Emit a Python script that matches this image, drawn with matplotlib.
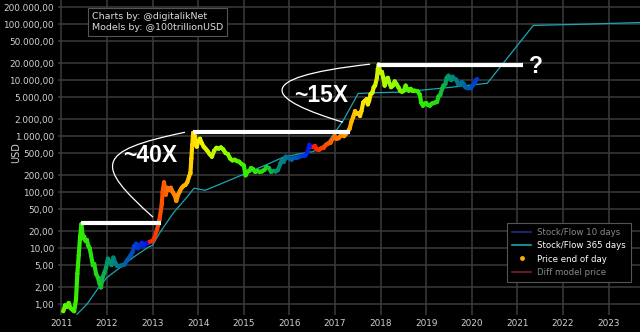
import numpy as np
import matplotlib
matplotlib.use("Agg")
import matplotlib.pyplot as plt
from matplotlib.collections import LineCollection
from matplotlib.colors import LinearSegmentedColormap
from matplotlib.lines import Line2D
from matplotlib.path import Path
from matplotlib.patches import PathPatch
from matplotlib.ticker import FuncFormatter, FixedLocator

# --- data --------------------------------------------------------
price_t = [2011.04, 2011.08, 2011.12, 2011.16, 2011.20, 2011.24, 2011.28, 2011.32, 2011.35, 2011.38,
           2011.41, 2011.44, 2011.46, 2011.48, 2011.50, 2011.53, 2011.56, 2011.59, 2011.62, 2011.65,
           2011.69, 2011.72, 2011.76, 2011.80, 2011.84, 2011.87, 2011.90, 2011.94, 2011.98, 2012.02,
           2012.06, 2012.10, 2012.14, 2012.18, 2012.22, 2012.30, 2012.38, 2012.45, 2012.52, 2012.56,
           2012.60, 2012.64, 2012.68, 2012.72, 2012.76, 2012.80, 2012.85, 2012.90, 2012.94, 2013.00,
           2013.05, 2013.10, 2013.15, 2013.20, 2013.22, 2013.25, 2013.27, 2013.29, 2013.32, 2013.36,
           2013.40, 2013.44, 2013.48, 2013.52, 2013.56, 2013.60, 2013.64, 2013.68, 2013.72, 2013.76,
           2013.80, 2013.83, 2013.85, 2013.87, 2013.89, 2013.91, 2013.93, 2013.95, 2013.97, 2014.00,
           2014.04, 2014.08, 2014.12, 2014.16, 2014.20, 2014.25, 2014.30, 2014.35, 2014.40, 2014.45,
           2014.50, 2014.55, 2014.60, 2014.65, 2014.70, 2014.75, 2014.80, 2014.85, 2014.90, 2014.95,
           2015.00, 2015.04, 2015.08, 2015.12, 2015.16, 2015.20, 2015.25, 2015.30, 2015.35, 2015.40,
           2015.45, 2015.50, 2015.55, 2015.60, 2015.65, 2015.70, 2015.75, 2015.80, 2015.84, 2015.88,
           2015.92, 2015.96, 2016.00, 2016.05, 2016.10, 2016.15, 2016.20, 2016.25, 2016.30, 2016.35,
           2016.40, 2016.44, 2016.47, 2016.53, 2016.56, 2016.60, 2016.65, 2016.70, 2016.75, 2016.80,
           2016.85, 2016.90, 2016.95, 2017.00, 2017.03, 2017.08, 2017.12, 2017.16, 2017.20, 2017.24,
           2017.28, 2017.32, 2017.36, 2017.40, 2017.44, 2017.48, 2017.52, 2017.55, 2017.58, 2017.62,
           2017.66, 2017.70, 2017.72, 2017.75, 2017.78, 2017.82, 2017.85, 2017.88, 2017.92, 2017.94,
           2017.96, 2017.98, 2018.00, 2018.03, 2018.06, 2018.09, 2018.12, 2018.16, 2018.19, 2018.23,
           2018.27, 2018.31, 2018.35, 2018.39, 2018.43, 2018.47, 2018.51, 2018.55, 2018.58, 2018.62,
           2018.66, 2018.70, 2018.74, 2018.78, 2018.82, 2018.86, 2018.89, 2018.93, 2018.96, 2019.00,
           2019.04, 2019.08, 2019.12, 2019.16, 2019.20, 2019.24, 2019.27, 2019.31, 2019.35, 2019.38,
           2019.42, 2019.45, 2019.49, 2019.52, 2019.55, 2019.58, 2019.62, 2019.66, 2019.70, 2019.74,
           2019.78, 2019.82, 2019.86, 2019.90, 2019.94, 2019.98, 2020.02, 2020.06, 2020.10, 2020.12]
price_usd = [0.75, 0.95, 0.9, 1.05, 0.85, 0.8, 0.75, 1.2, 3.5, 7.5,
             16, 27, 18, 15, 16, 13.5, 14, 11, 10, 7.5,
             5.0, 5.2, 3.5, 3.0, 2.3, 2.0, 3.0, 3.6, 4.5, 6.5,
             5.8, 5.0, 6.8, 5.5, 4.9, 4.9, 5.1, 6.2, 7.5, 8.5,
             11, 12, 10, 11.5, 12.5, 11, 12, 12.5, 13, 13.5,
             16, 22, 32, 60, 100, 150, 120, 90, 120, 110,
             120, 100, 90, 70, 90, 105, 120, 130, 135, 150,
             190, 220, 400, 700, 1150, 900, 1000, 700, 650, 800,
             900, 750, 650, 600, 550, 480, 430, 550, 620, 600,
             630, 580, 500, 480, 400, 370, 380, 360, 350, 320,
             300, 200, 230, 240, 270, 260, 230, 240, 230, 235,
             250, 280, 270, 230, 240, 235, 250, 320, 380, 350,
             430, 420, 400, 380, 420, 410, 420, 440, 450, 450,
             520, 700, 650, 650, 670, 580, 570, 610, 620, 700,
             740, 760, 900, 1000, 900, 920, 1000, 1150, 1000, 1100,
             1200, 1350, 1800, 2200, 2800, 2500, 2600, 2300, 2800, 4000,
             4300, 4600, 3700, 4300, 5600, 6000, 7500, 8000, 11000, 16000,
             19000, 15000, 13500, 14000, 11000, 8000, 10500, 11000, 9000, 7500,
             8000, 9500, 8500, 7500, 6500, 6200, 6500, 8000, 7000, 6500,
             7000, 6400, 6500, 6400, 6300, 5500, 4000, 3500, 3800, 3900,
             3600, 3500, 3800, 3900, 4000, 4100, 5100, 5500, 7000, 8000,
             8500, 11000, 12000, 10500, 10000, 11500, 10500, 10200, 8500, 8200,
             9300, 8700, 7500, 7200, 7200, 7200, 8000, 8800, 10200, 10400]

sf365_t = [2011.34, 2011.56, 2011.80, 2012.00, 2012.30, 2012.58, 2012.91, 2013.00, 2013.16, 2013.45,
           2013.75, 2013.91, 2014.15, 2014.48, 2015.05, 2015.50, 2015.86, 2016.20, 2016.52, 2016.83,
           2017.18, 2017.51, 2018.00, 2018.42, 2018.87, 2019.50, 2020.34, 2021.35, 2022.50, 2023.69]
sf365_usd = [0.66, 1.0, 1.9, 3.0, 4.6, 6.9, 10.5, 11.3, 19, 42,
             81, 118, 108, 139, 218, 310, 420, 480, 530, 750,
             1900, 5800, 6000, 6100, 6600, 7400, 8800, 95000, 100000, 107000]

halvings = [2009.01, 2012.91, 2016.52, 2020.36]

# previous ATH levels (white bars): start, end, level
ath_start = [2011.43, 2013.89, 2017.93]
ath_end = [2013.19, 2017.33, 2021.13]
ath_level = [28, 1200, 19000]
multiples = ["~40X", "~15X", "?"]

year_ticks = list(range(2011, 2024))
usd_ticks = [1, 2, 5, 10, 20, 50, 100, 200, 500, 1000, 2000, 5000,
             10000, 20000, 50000, 100000, 200000]

# --- figure ------------------------------------------------------
fig = plt.figure(figsize=(6.4, 3.32), dpi=100, facecolor="black")
ax = fig.add_axes([0.0906, 0.051, 0.9094, 0.949])
ax.set_facecolor("black")
ax.set_yscale("log")
ax.set_xlim(2010.925, 2023.69)
ax.set_ylim(0.64, 270000)

for s in ax.spines.values():
    s.set_visible(False)

ax.xaxis.set_major_locator(FixedLocator(year_ticks))
ax.yaxis.set_major_locator(FixedLocator(usd_ticks))
ax.yaxis.set_minor_locator(FixedLocator([]))
ax.xaxis.set_major_formatter(FuncFormatter(lambda v, p: "%d" % v))


def eur(v, p):
    s = "{:,.2f}".format(v)
    return s.replace(",", "X").replace(".", ",").replace("X", ".")


ax.yaxis.set_major_formatter(FuncFormatter(eur))
ax.tick_params(colors="#d0d0d0", labelsize=6.4, length=0, pad=3)
ax.grid(True, color="#3c3c3c", linewidth=1.1)
ax.set_axisbelow(True)
ax.set_ylabel("USD", color="#d0d0d0", fontsize=7)
ax.yaxis.set_label_coords(-0.063, 0.515)

# stock/flow 365 days model
ax.plot(sf365_t, sf365_usd, color="#19a6b6", linewidth=0.9, zorder=3)

# price, colored by position in halving cycle
cmap = LinearSegmentedColormap.from_list("cycle", [
    (0.0, "#ff1a00"), (0.14, "#ff7a00"), (0.3, "#ffee00"), (0.45, "#99ff00"),
    (0.6, "#33ee00"), (0.71, "#22dd11"), (0.77, "#009966"), (0.88, "#0060aa"),
    (1.0, "#0010ff")])
pt = np.array(price_t)
pv = np.array(price_usd)
idx = np.searchsorted(halvings, pt) - 1
h0 = np.array(halvings)[idx]
h1 = np.array(halvings)[idx + 1]
frac = (pt - h0) / (h1 - h0)
cols = cmap(frac)

pts = np.column_stack([pt, pv]).reshape(-1, 1, 2)
segs = np.concatenate([pts[:-1], pts[1:]], axis=1)
lc = LineCollection(segs, colors=cols[1:], linewidths=3.0, capstyle="round", zorder=4)
ax.add_collection(lc)
ax.scatter(pt, pv, c=cols, s=8, linewidths=0, zorder=5)

# ATH bars
for a, b, lvl in zip(ath_start, ath_end, ath_level):
    ax.plot([a, b], [lvl, lvl], color="white", linewidth=3.0, solid_capstyle="butt", zorder=6)

# bracket curves between bars
curves = [
    [(2013.01, 35.8), (2011.737, 303), (2011.715, 540), (2013.71, 1175)],
    [(2017.175, 1778), (2015.58, 4395), (2015.01, 10860), (2017.77, 19300)],
]
for c in curves:
    path = Path(c, [Path.MOVETO, Path.CURVE4, Path.CURVE4, Path.CURVE4])
    ax.add_patch(PathPatch(path, facecolor="none", edgecolor="white", linewidth=0.9, zorder=6))

ax.text(2012.95, 460, multiples[0], color="white", fontsize=16.5, fontweight="bold",
        family="Liberation Sans", ha="center", va="center", zorder=7)
ax.text(2016.70, 5300, multiples[1], color="white", fontsize=16.5, fontweight="bold",
        family="Liberation Sans", ha="center", va="center", zorder=7)
ax.text(2021.4, 17800, multiples[2], color="white", fontsize=16.5, fontweight="bold",
        family="Liberation Sans", ha="center", va="center", zorder=7)

# credits box
ax.text(0.058, 0.962, "Charts by: @digitalikNet\nModels by: @100trillionUSD",
        transform=ax.transAxes, color="#dddddd", fontsize=6.8, va="top", ha="left",
        linespacing=1.35, zorder=8,
        bbox=dict(boxstyle="square,pad=0.4", facecolor="black", edgecolor="#555555", linewidth=0.8))

# legend
handles = [
    Line2D([], [], color="#2b2b80", linewidth=1.2),
    Line2D([], [], color="#19a6b6", linewidth=1.2),
    Line2D([], [], color="#ffaa00", marker="o", markersize=2.5, linestyle="none"),
    Line2D([], [], color="#7a1c2c", linewidth=1.2),
]
labels = ["Stock/Flow 10 days", "Stock/Flow 365 days", "Price end of day", "Diff model price"]
leg = ax.legend(handles, labels, loc="lower right", bbox_to_anchor=(0.985, 0.105),
                borderaxespad=0, fontsize=6.2, facecolor="black", edgecolor="#555555",
                framealpha=1, fancybox=False, handlelength=2.2, labelspacing=0.5,
                borderpad=0.6, handletextpad=0.7)
leg.get_frame().set_linewidth(0.8)
for t, c in zip(leg.get_texts(), ["#8a8a8a", "white", "white", "#8a8a8a"]):
    t.set_color(c)
leg.set_zorder(9)

fig.savefig("out.png", dpi=100, facecolor="black")
